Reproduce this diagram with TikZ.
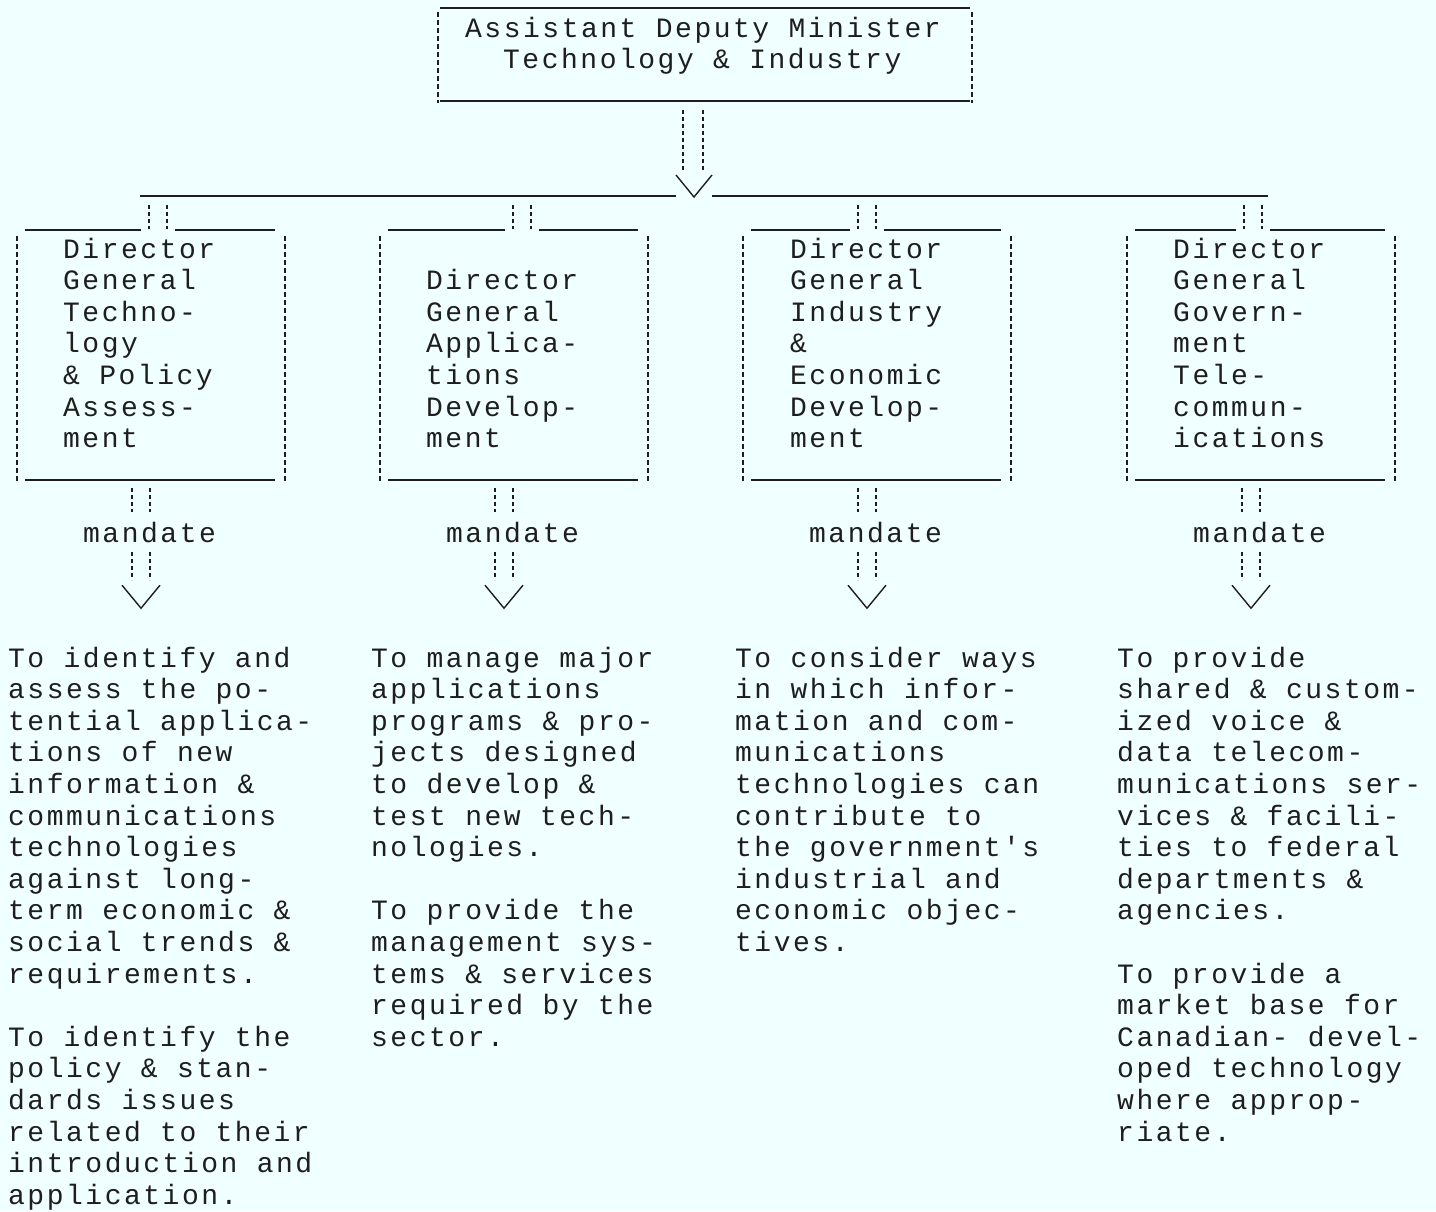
\documentclass[tikz,border=0pt]{standalone}
\usepackage{fontspec}
\newfontfamily\tw[LetterSpace=9]{Liberation Mono}
\usetikzlibrary{calc}
\definecolor{paper}{RGB}{240,255,255}
\definecolor{ink}{RGB}{30,30,30}

\begin{document}
\begin{tikzpicture}[x=1pt,y=-1pt,
  txt/.style={anchor=base west, inner sep=0pt, text=ink,
              font=\tw\fontsize{28pt}{31.6pt}\selectfont},
  rule/.style={draw=ink, line width=1.7pt},
  tickline/.style={draw=ink, line width=1.4pt, dash pattern=on 4pt off 3pt},
  side/.style={draw=ink, line width=1.6pt, dash pattern=on 5pt off 3pt},
  vee/.style={draw=ink, line width=1.4pt},
  frame/.style={inner sep=0pt, minimum width=268pt, minimum height=250pt}]

% paper
\fill[paper] (0,0) rectangle (1436,1211);
\useasboundingbox (0,0) rectangle (1436,1211);

% ---------- top box ----------
\node[inner sep=0pt, minimum width=534pt, minimum height=93pt] (adm) at (705,54.5) {};
\node[txt] (adm1) at (465,37) {Assistant Deputy Minister};
\node[txt] (adm2) at (503,68) {Technology \& Industry};
\draw[rule] ([xshift=2pt]adm.north west) -- ([xshift=-2pt]adm.north east);
\draw[rule] ([xshift=2pt]adm.south west) -- ([xshift=-2pt]adm.south east);
\draw[side] ([yshift=-4pt]adm.north west) -- ([yshift=-2pt]adm.south west);
\draw[side] ([yshift=-4pt]adm.north east) -- ([yshift=-2pt]adm.south east);

% hub arrow and bus
\coordinate (hub) at (694,197);
\coordinate (busL) at (140,196);
\coordinate (busR) at (1268,196);
\draw[tickline] ($(adm.south)+(-22,9)$) -- ($(hub)+(-11,-25)$);
\draw[tickline] ($(adm.south)+(-2,9)$) -- ($(hub)+(9,-25)$);
\draw[vee] ($(hub)+(-18,-22)$) -- (hub) -- ($(hub)+(18,-22)$);
\draw[rule] (busL) -- ($(hub)+(-18,-1)$);
\draw[rule] ($(hub)+(18,-1)$) -- (busR);

% ---------- director boxes ----------
\foreach \n/\cx/\tk in {1/151/-2, 2/514/-1, 3/877/-19, 4/1261/-17} {
  \node[frame] (b\n) at (\cx,355) {};
  % top rule with gap for the feed lines
  \draw[rule] ([xshift=8pt]b\n.north west) -- ($(b\n.north)+(\tk-8,0)$);
  \draw[rule] ($(b\n.north)+(\tk+26,0)$) -- ([xshift=-10pt]b\n.north east);
  \draw[tickline] ($(b\n.north)+(\tk,-25)$) -- ($(b\n.north)+(\tk,-1)$);
  \draw[tickline] ($(b\n.north)+(\tk+18,-25)$) -- ($(b\n.north)+(\tk+18,-1)$);
  % sides and bottom
  \draw[side] ([yshift=-6pt]b\n.north west) -- ([yshift=-2pt]b\n.south west);
  \draw[side] ([yshift=-6pt]b\n.north east) -- ([yshift=-2pt]b\n.south east);
  \draw[rule] ([xshift=8pt]b\n.south west) -- ([xshift=-10pt]b\n.south east);
  % mandate link
  \node[txt] (m\n) at ($(b\n.south)+(-68,62)$) {mandate};
  \coordinate (v\n) at ($(b\n.south)+(-10,128)$);
  \draw[tickline] ($(b\n.south)+(-19,8)$) -- ($(b\n.south)+(-19,32)$);
  \draw[tickline] ($(b\n.south)+(-1,8)$) -- ($(b\n.south)+(-1,32)$);
  \draw[tickline] ($(v\n)+(-9,-56)$) -- ($(v\n)+(-9,-28)$);
  \draw[tickline] ($(v\n)+(9,-56)$) -- ($(v\n)+(9,-28)$);
  \draw[vee] ($(v\n)+(-19,-23)$) -- (v\n) -- ($(v\n)+(19,-23)$);
}

% box titles
\foreach \s [count=\i] in {Director, General, Techno-, logy, \& Policy, Assess-, ment}
  \node[txt] (t1-\i) at ({63},{258+31.6*(\i-1)}) {\s};
\foreach \s [count=\i] in {Director, General, Applica-, tions, Develop-, ment}
  \node[txt] (t2-\i) at ({426},{258+31.6*\i}) {\s};
\foreach \s [count=\i] in {Director, General, Industry, \&, Economic, Develop-, ment}
  \node[txt] (t3-\i) at ({790},{258+31.6*(\i-1)}) {\s};
\foreach \s [count=\i] in {Director, General, Govern-, ment, Tele-, commun-, ications}
  \node[txt] (t4-\i) at ({1173},{258+31.6*(\i-1)}) {\s};

% ---------- mandates ----------
\foreach \s [count=\i] in {To identify and, assess the po-, tential applica-, tions of new,
    information \&, communications, technologies, against long-, term economic \&,
    social trends \&, requirements.}
  \node[txt] (p1a-\i) at ({8},{667+31.6*(\i-1)}) {\s};
\foreach \s [count=\i] in {To identify the, policy \& stan-, dards issues, related to their,
    introduction and, application.}
  \node[txt] (p1b-\i) at ({8},{667+31.6*(\i+11)}) {\s};

\foreach \s [count=\i] in {To manage major, applications, programs \& pro-, jects designed,
    to develop \&, test new tech-, nologies.}
  \node[txt] (p2a-\i) at ({371},{667+31.6*(\i-1)}) {\s};
\foreach \s [count=\i] in {To provide the, management sys-, tems \& services,
    required by the, sector.}
  \node[txt] (p2b-\i) at ({371},{667+31.6*(\i+7)}) {\s};

\foreach \s [count=\i] in {To consider ways, in which infor-, mation and com-, munications,
    technologies can, contribute to, the government's, industrial and,
    economic objec-, tives.}
  \node[txt] (p3-\i) at ({735},{667+31.6*(\i-1)}) {\s};

\foreach \s [count=\i] in {To provide, shared \& custom-, ized voice \&, data telecom-,
    munications ser-, vices \& facili-, ties to federal, departments \&, agencies.}
  \node[txt] (p4a-\i) at ({1117},{667+31.6*(\i-1)}) {\s};
\foreach \s [count=\i] in {To provide a, market base for, Canadian- devel-, oped technology,
    where approp-, riate.}
  \node[txt] (p4b-\i) at ({1117},{667+31.6*(\i+9)}) {\s};

\end{tikzpicture}
\end{document}
